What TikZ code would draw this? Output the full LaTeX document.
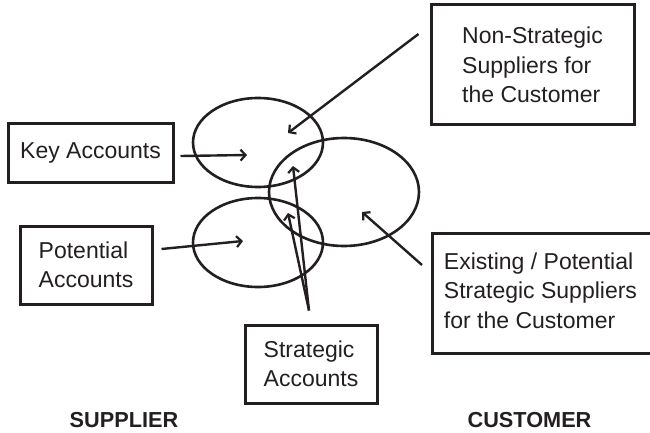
\documentclass[tikz,border=0pt]{standalone}
\usepackage{fontspec}
\setmainfont{Liberation Sans}
\usetikzlibrary{shapes.geometric,arrows.meta,calc}
\definecolor{ink}{HTML}{231F20}
\begin{document}
\begin{tikzpicture}[x=1pt,y=-1pt,
  box/.style={draw=ink,line width=3pt,text=ink,align=left,inner sep=0pt,
    font=\fontsize{23}{29.5}\selectfont},
  oval/.style={draw=ink,line width=2.6pt,ellipse,inner sep=0pt},
  arr/.style={draw=ink,line width=2.4pt,-{Straight Barb[length=5pt,width=11pt,line width=2.2pt]}},
  side/.style={text=ink,font=\fontsize{21.7}{26}\selectfont\bfseries,inner sep=0pt}]
\useasboundingbox (0,0) rectangle (650,433);
% ellipses
\node[oval,minimum width=130,minimum height=89] (e1) at (258,142.5) {};
\node[oval,minimum width=130,minimum height=89] (e2) at (258,242.5) {};
\node[oval,minimum width=150,minimum height=108] (e3) at (344,192) {};
% boxes
\node[box,minimum width=165,minimum height=58] (ka) at (90.5,153) {Key Accounts};
\node[box,minimum width=203,minimum height=120] (ns) at (532.5,65) {Non-Strategic\\Suppliers for\\the Customer};
\node[box,minimum width=132,minimum height=78] (pa) at (86,265) {Potential\\Accounts};
\node[box,minimum width=132,minimum height=78] (sa) at (311,364) {Strategic\\Accounts};
\node[box,minimum width=232,minimum height=120,anchor=west] (es) at (431,293)
  {\hspace*{-16pt}\begin{tabular}{@{}l@{}}Existing / Potential\\[-0.2pt]Strategic Suppliers\\[-0.2pt]for the Customer\end{tabular}};
% arrow tips
\coordinate (tk) at (247,155);
\coordinate (tn) at (288,133);
\coordinate (tp) at (243,241);
\coordinate (ts1) at (293,166);
\coordinate (ts2) at (288,213);
\coordinate (te) at (362,212);
% arrow starts
\coordinate (sk) at ($(ka.east)+(6,3)$);
\coordinate (sn) at ($(ns.west)+(-11,-31)$);
\coordinate (sp) at ($(pa.east)+(8,-16)$);
\coordinate (ss) at ($(sa.north)+(-2,-13)$);
\coordinate (se) at ($(es.west)+(-9,-28)$);
\draw[arr] (sk) -- (tk);
\draw[arr] (sn) -- (tn);
\draw[arr] (sp) -- (tp);
\draw[arr] (ss) -- (ts1);
\draw[arr] (ss) -- (ts2);
\draw[arr] (se) -- (te);
% side labels
\node[side] (sup) at (124,420.5) {SUPPLIER};
\node[side] (cus) at (529.5,420.5) {CUSTOMER};
\end{tikzpicture}
\end{document}
